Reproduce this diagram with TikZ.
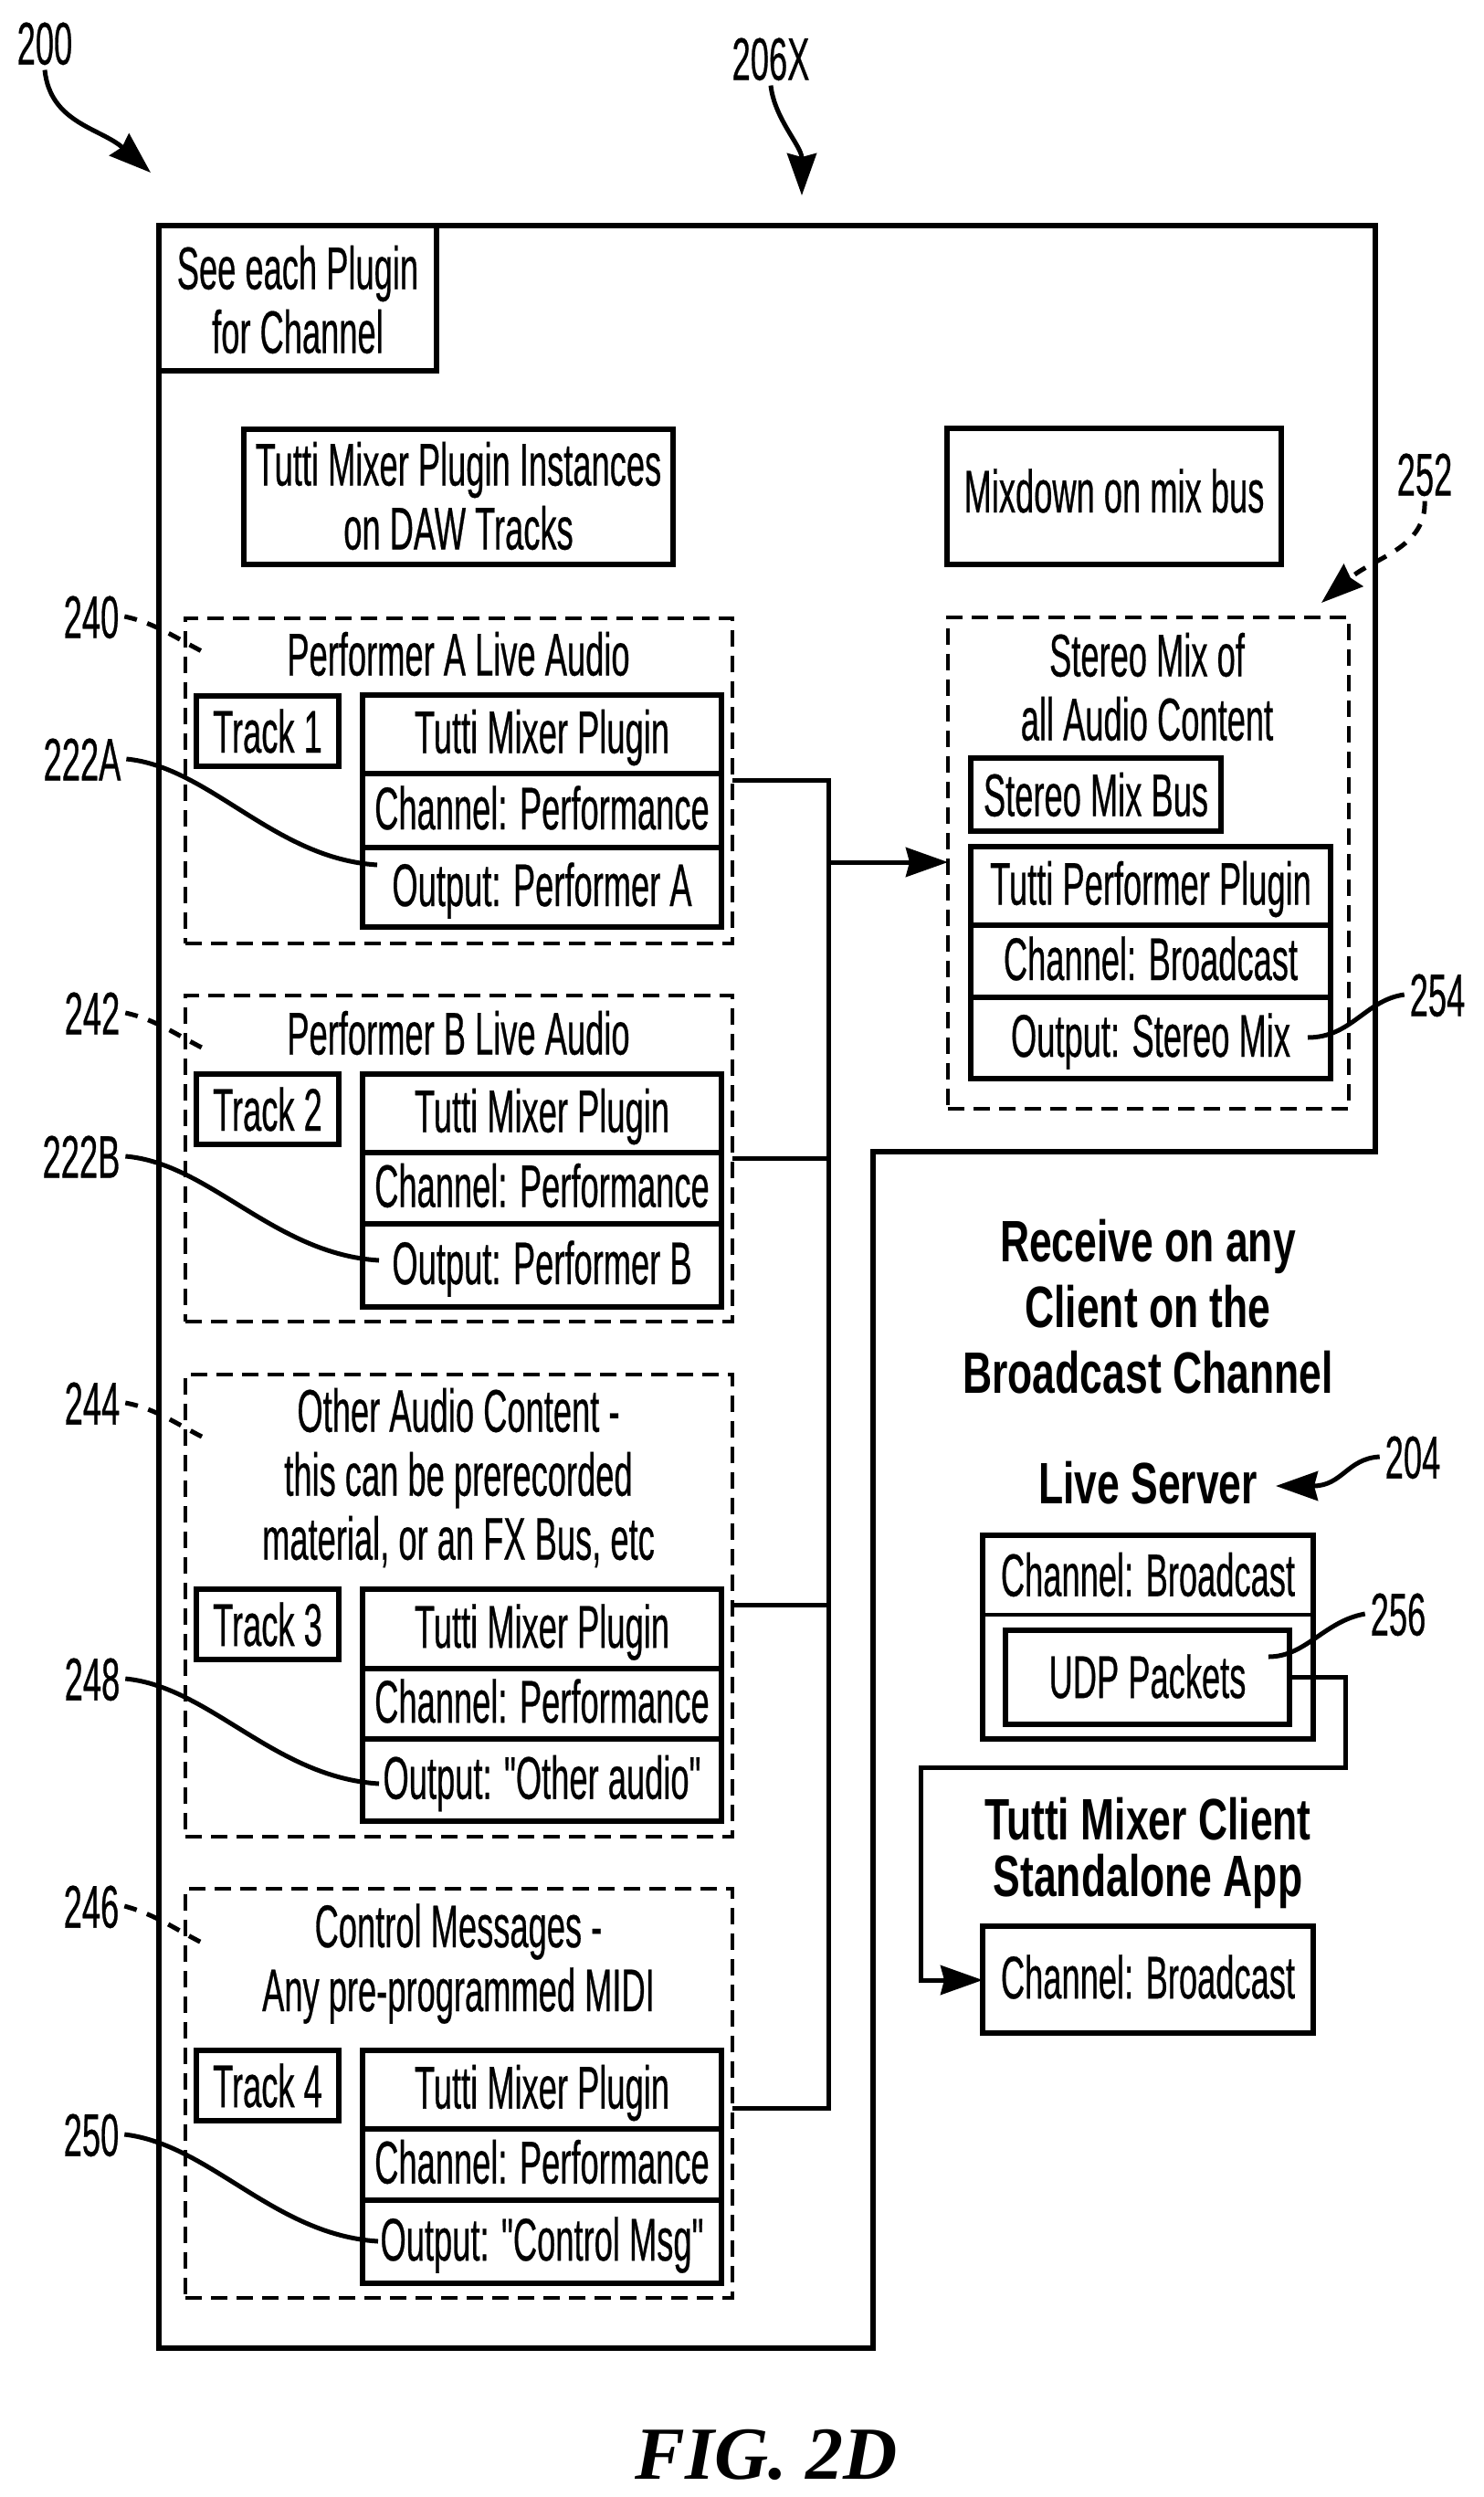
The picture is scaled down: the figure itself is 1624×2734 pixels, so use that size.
\documentclass[tikz,border=0pt]{standalone}
\usepackage{fontspec}
\setmainfont{Liberation Sans}[FakeStretch=0.55,FakeBold=0.4,Ligatures=TeXOff]
\newfontfamily\hbold{Liberation Sans}[FakeStretch=0.695]
\newfontfamily\figfont{Liberation Serif}
\usetikzlibrary{arrows.meta,calc}
\tikzset{
  every node/.style={font=\fontsize{33}{35}\selectfont,inner sep=0pt,outer sep=0pt},
  boxs/.style={draw,line width=2.7pt,text height=23.6pt,text depth=3pt},
  grp/.style={draw,line width=2.3pt,dash pattern=on 9pt off 5pt},
  txt/.style={align=center},
  btxt/.style={align=center,font=\hbold\bfseries\fontsize{32}{36}\selectfont},
  lab/.style={text height=23.6pt,text depth=0pt,outer sep=3pt},
  wire/.style={line width=2.5pt,line join=miter},
  lead/.style={line width=2.5pt},
  dlead/.style={line width=2.5pt,dash pattern=on 7pt off 6pt},
  tip/.style={-{Stealth[length=23pt,width=16pt,inset=2pt]}},
}
\newcommand{\bx}[7][boxs]{%
  \pgfmathsetmacro\bxw{(#5-#3)/2}%
  \pgfmathsetmacro\bxh{(#6-#4)/2}%
  \node[#1,minimum width=\bxw pt,minimum height=\bxh pt] (#2) at ({(#3+#5)/2},{(#4+#6)/2}) {#7};%
}
\begin{document}
\begin{tikzpicture}[x=0.5pt,y=-0.5pt]
\fill[white] (0,0) rectangle (1624,2734);
\useasboundingbox (0,0) rectangle (1624,2734);
% outer outline
\draw[line width=2.8pt,line join=miter] (174,247) -- (1506,247) -- (1506,1261) -- (956,1261) -- (956,2571) -- (174,2571) -- cycle;
\bx[boxs,text height=0pt,text depth=0pt]{see}{174}{247}{478}{406}{}
\node[txt] (seet) at (326,328) {See each Plugin\\for Channel};
\bx[boxs,text height=0pt,text depth=0pt]{inst}{267}{470}{737}{618}{}
\node[txt] (instt) at (502,543) {Tutti Mixer Plugin Instances\\on DAW Tracks};
\bx[boxs,text depth=6pt]{mixd}{1037}{469}{1403}{618}{Mixdown on mix bus}
% group 1
\bx[grp]{g1}{203}{677}{802}{1033}{}
\node (t1) at (502,716) {Performer A Live Audio};
\bx[boxs,text depth=0pt]{tr1}{215}{762}{371}{839}{Track 1}
\bx{p1a}{397}{761}{790}{847}{Tutti Mixer Plugin}
\bx{p1b}{397}{847}{790}{928}{Channel: Performance}
\bx{p1c}{397}{928}{790}{1015}{Output: Performer A}
% group 2
\bx[grp]{g2}{203}{1090}{802}{1447}{}
\node (t2) at (502,1131) {Performer B Live Audio};
\bx[boxs,text depth=0pt]{tr2}{215}{1176}{371}{1253}{Track 2}
\bx{p2a}{397}{1176}{790}{1262}{Tutti Mixer Plugin}
\bx{p2b}{397}{1262}{790}{1340}{Channel: Performance}
\bx{p2c}{397}{1340}{790}{1431}{Output: Performer B}
% group 3
\bx[grp]{g3}{203}{1505}{802}{2011}{}
\node[txt] (t3) at (502,1618) {Other Audio Content -\\this can be prerecorded\\material, or an FX Bus, etc};
\bx[boxs,text depth=0pt]{tr3}{215}{1740}{371}{1817}{Track 3}
\bx{p3a}{397}{1740}{790}{1827}{Tutti Mixer Plugin}
\bx{p3b}{397}{1827}{790}{1904}{Channel: Performance}
\bx{p3c}{397}{1904}{790}{1994}{Output: "Other audio"}
% group 4
\bx[grp]{g4}{203}{2068}{802}{2516}{}
\node[txt] (t4) at (502,2150) {Control Messages -\\Any pre-programmed MIDI};
\bx[boxs,text depth=0pt]{tr4}{215}{2245}{371}{2322}{Track 4}
\bx{p4a}{397}{2245}{790}{2331}{Tutti Mixer Plugin}
\bx{p4b}{397}{2331}{790}{2409}{Channel: Performance}
\bx{p4c}{397}{2409}{790}{2500}{Output: "Control Msg"}
% stereo group
\bx[grp]{g5}{1038}{676}{1477}{1214}{}
\node[txt] (t5) at (1256,752) {Stereo Mix of\\all Audio Content};
\bx[boxs,text depth=0pt]{sbus}{1063}{830}{1337}{910}{Stereo Mix Bus}
\bx{s1}{1063}{927}{1457}{1013}{Tutti Performer Plugin}
\bx{s2}{1063}{1013}{1457}{1092}{Channel: Broadcast}
\bx{s3}{1063}{1092}{1457}{1181}{Output: Stereo Mix}
% bus
\coordinate (b1) at (907,854);
\coordinate (b2) at (907,1268);
\coordinate (b3) at (907,1757);
\coordinate (b4) at (907,2308);
\coordinate (bj) at (907,944);
\draw[wire] (g1.east|-b1) -- (b1) -- (b4) -- (g4.east|-b4);
\draw[wire] (g2.east|-b2) -- (b2);
\draw[wire] (g3.east|-b3) -- (b3);
\draw[wire,tip] (bj) -- (g5.west|-bj);
% right side
\node[btxt] (h1) at (1257,1431) {Receive on any\\Client on the\\Broadcast Channel};
\node[btxt] (h2) at (1257,1624) {Live Server};
\bx[boxs,text height=0pt,text depth=0pt]{srv}{1076}{1681}{1438}{1904}{}
\coordinate (sd) at (1076,1768);
\draw[line width=1.8pt] (sd) -- (srv.east|-sd);
\node[text height=23.6pt,text depth=3pt] (srvt) at (1257,1727) {Channel: Broadcast};
\bx[boxs,text depth=1pt]{udp}{1101}{1785}{1412}{1888}{UDP Packets}
\node[btxt,font=\hbold\bfseries\fontsize{32}{31}\selectfont] (h3) at (1257,2029) {Tutti Mixer Client\\Standalone App};
\bx{cli}{1076}{2109}{1438}{2226}{Channel: Broadcast}
\coordinate (u1) at (1473,1836);
\coordinate (u2) at (1473,1935);
\coordinate (u3) at (1008,1935);
\coordinate (u4) at (1008,2168);
\draw[wire,tip] (udp.east|-u1) -- (u1) -- (u2) -- (u3) -- (u4) -- (cli.west|-u4);
% labels
\node[lab] (l200) at (49,47) {200};
\node[lab] (l206) at (844,64) {206X};
\node[lab] (l240) at (100,675) {240};
\node[lab] (l222a) at (90,831) {222A};
\node[lab] (l242) at (101,1109) {242};
\node[lab] (l222b) at (89,1266) {222B};
\node[lab] (l244) at (101,1536) {244};
\node[lab] (l248) at (101,1838) {248};
\node[lab] (l246) at (100,2087) {246};
\node[lab] (l250) at (100,2337) {250};
\node[lab] (l252) at (1560,519) {252};
\node[lab] (l254) at (1574,1089) {254};
\node[lab] (l204) at (1547,1595) {204};
\node[lab] (l256) at (1531,1767) {256};
% reference leads
\coordinate (a200) at (165,189);
\coordinate (a206) at (878,214);
\coordinate (a252) at (1447,660);
\coordinate (a204) at (1397,1627);
\draw[lead,tip] (l200.south) .. controls (55,135) and (110,140) .. (a200);
\draw[lead,tip] (l206.south) .. controls (848,130) and (878,160) .. (a206);
\draw[dlead,tip] (l252.south) .. controls (1562,600) and (1505,610) .. (a252);
\draw[lead,tip] (l204.west) .. controls (1475,1597) and (1470,1627) .. (a204);
\coordinate (d240) at (221,713);
\coordinate (d242) at (221,1147);
\coordinate (d244) at (221,1573);
\coordinate (d246) at (221,2127);
\draw[dlead] (l240.east) .. controls (170,682) and (195,700) .. (d240);
\draw[dlead] (l242.east) .. controls (170,1116) and (195,1134) .. (d242);
\draw[dlead] (l244.east) .. controls (170,1542) and (195,1560) .. (d244);
\draw[dlead] (l246.east) .. controls (170,2096) and (195,2114) .. (d246);
\coordinate (e1) at (413,947);
\coordinate (e2) at (415,1380);
\coordinate (e3) at (415,1953);
\coordinate (e4) at (414,2454);
\coordinate (e5) at (1432,1136);
\coordinate (e6) at (1389,1814);
\draw[lead] (l222a.east) .. controls (230,840) and (300,940) .. (e1);
\draw[lead] (l222b.east) .. controls (230,1274) and (300,1373) .. (e2);
\draw[lead] (l248.east) .. controls (230,1847) and (300,1946) .. (e3);
\draw[lead] (l250.east) .. controls (230,2348) and (300,2447) .. (e4);
\draw[lead] (l254.west) .. controls (1495,1095) and (1480,1136) .. (e5);
\draw[lead] (l256.west) .. controls (1450,1775) and (1430,1814) .. (e6);
% caption
\node[font=\figfont\bfseries\itshape\fontsize{41}{45}\selectfont] (fig) at (839,2688) {FIG. 2D};
\end{tikzpicture}
\end{document}
